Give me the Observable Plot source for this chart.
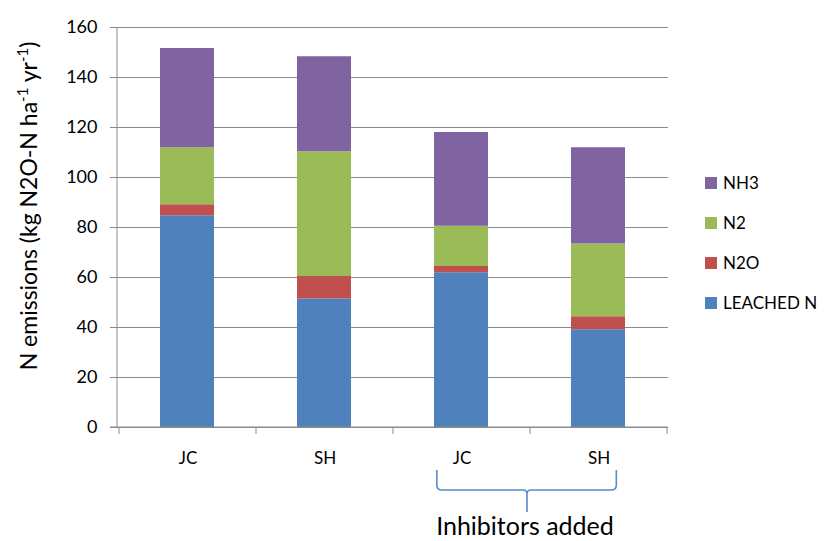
<!DOCTYPE html>
<html>
<head>
<meta charset="utf-8">
<script src="https://cdn.jsdelivr.net/npm/d3@7"></script>
<script src="https://cdn.jsdelivr.net/npm/@observablehq/plot@0.6"></script>
<style>
  html, body { margin: 0; padding: 0; background: #fff; }
  #chart { position: relative; width: 826px; height: 541px; }
</style>
</head>
<body>
<div id="chart"></div>
<script>
// ---- data ----
const categoryIds = ["JC_1", "SH_1", "JC_2", "SH_2"];
const categoryLabels = ["JC", "SH", "JC", "SH"];
const seriesNames = ["LEACHED N", "N2O", "N2", "NH3"];
const seriesColors = ["#4F81BD", "#C0504D", "#9BBB59", "#8064A2"];
const leachedN = [84.7, 51.4, 61.9, 39.1];
const n2o = [4.4, 9.0, 2.5, 5.2];
const n2 = [22.8, 49.9, 16.1, 29.1];
const nh3 = [39.7, 38.0, 37.5, 38.5];
const yTicks = [0, 20, 40, 60, 80, 100, 120, 140, 160];
const groupLabel = "Inhibitors added";
const groupMembers = ["JC_2", "SH_2"];

const seriesValues = [leachedN, n2o, n2, nh3];
const rows = [];
seriesNames.forEach((s, si) => {
  categoryIds.forEach((c, ci) => rows.push({cat: c, series: s, value: seriesValues[si][ci]}));
});
const labelOf = Object.fromEntries(categoryIds.map((c, i) => [c, categoryLabels[i]]));

const FONT = "Lato, 'Open Sans', sans-serif";
const W = 826, H = 541;
const mL = 117, mR = 158, mT = 27, mB = 114;

const plot = Plot.plot({
  width: W, height: H,
  marginLeft: mL, marginRight: mR, marginTop: mT, marginBottom: mB,
  style: {fontFamily: FONT, color: "#000", background: "#fff"},
  x: {domain: categoryIds, padding: 0, label: null},
  y: {domain: [0, 160], label: null},
  color: {domain: seriesNames, range: seriesColors},
  marks: [
    Plot.gridY(yTicks, {stroke: "#8a8a8a", strokeOpacity: 1, strokeWidth: 1}),
    Plot.barY(rows, Plot.stackY({x: "cat", y: "value", fill: "series", order: seriesNames, insetLeft: 41, insetRight: 42})),
    Plot.axisY(yTicks, {tickSize: 7, tickPadding: 13, fontSize: 18, stroke: "#8a8a8a", fill: "#000", label: null}),
    Plot.axisX({tickSize: 0, tickPadding: 24, fontSize: 17, tickFormat: d => labelOf[d], label: null})
  ]
});
document.getElementById("chart").appendChild(plot);

const svg = d3.select(plot);
const xs = plot.scale("x");
const ys = plot.scale("y");
const bw = xs.bandwidth;
const y0 = ys.apply(0), yTop = ys.apply(160);
const xLeft = mL, xRight = W - mR;

// axis lines
svg.append("line").attr("x1", xLeft).attr("x2", xLeft).attr("y1", yTop).attr("y2", y0)
  .attr("stroke", "#8a8a8a");
svg.append("line").attr("x1", xLeft - 7).attr("x2", xRight).attr("y1", y0).attr("y2", y0)
  .attr("stroke", "#8a8a8a");
// x tick marks at band boundaries
const bounds = categoryIds.map(c => xs.apply(c)).concat([xs.apply(categoryIds[categoryIds.length - 1]) + bw]);
bounds.forEach(bx => {
  svg.append("line").attr("x1", bx).attr("x2", bx).attr("y1", y0).attr("y2", y0 + 7).attr("stroke", "#8a8a8a");
});

// y axis title with superscripts
const yt = svg.append("text")
  .attr("transform", `translate(37, ${(yTop + y0) / 2 - 21}) rotate(-90)`)
  .attr("text-anchor", "middle")
  .attr("font-family", FONT).attr("font-size", 23).attr("fill", "#000");
yt.append("tspan").text("N emissions (kg N2O-N ha");
yt.append("tspan").attr("dy", -9).attr("font-size", 15).text("-1");
yt.append("tspan").attr("dy", 9).text(" yr");
yt.append("tspan").attr("dy", -9).attr("font-size", 15).text("-1");
yt.append("tspan").attr("dy", 9).text(")");

// legend (top to bottom: reverse stack order)
const legendItems = seriesNames.slice().reverse();
const color = plot.scale("color");
legendItems.forEach((name, i) => {
  const cy = 183 + i * 40;
  svg.append("rect").attr("x", 705).attr("y", cy - 6).attr("width", 12).attr("height", 12)
    .attr("fill", color.apply(name));
  svg.append("text").attr("x", 723).attr("y", cy).attr("dy", "0.36em")
    .attr("text-anchor", "start")
    .attr("font-family", FONT).attr("font-size", 17).attr("fill", "#000").text(name);
});

// bracket under the inhibitor group
const gx1 = xs.apply(groupMembers[0]) + bw * 0.32;
const gx2 = xs.apply(groupMembers[1]) + bw * 0.63;
const gmid = xs.apply(groupMembers[1]) - 3;
const bt = y0 + 43, bh = y0 + 63, bp = y0 + 85;
const r = 5;
const path = `M${gx1},${bt} L${gx1},${bh - r} Q${gx1},${bh} ${gx1 + r},${bh} L${gmid - 4},${bh} Q${gmid},${bh} ${gmid},${bh + 4} L${gmid},${bp}` +
  ` M${gmid},${bh + 4} Q${gmid},${bh} ${gmid + 4},${bh} L${gx2 - r},${bh} Q${gx2},${bh} ${gx2},${bh - r} L${gx2},${bt}`;
svg.append("path").attr("d", path).attr("fill", "none").attr("stroke", "#5B8BC9").attr("stroke-width", 1.6);
svg.append("text").attr("x", gmid - 2).attr("y", y0 + 108)
  .attr("text-anchor", "middle").attr("font-family", FONT).attr("font-size", 25).attr("fill", "#000")
  .text(groupLabel);
</script>
</body>
</html>
